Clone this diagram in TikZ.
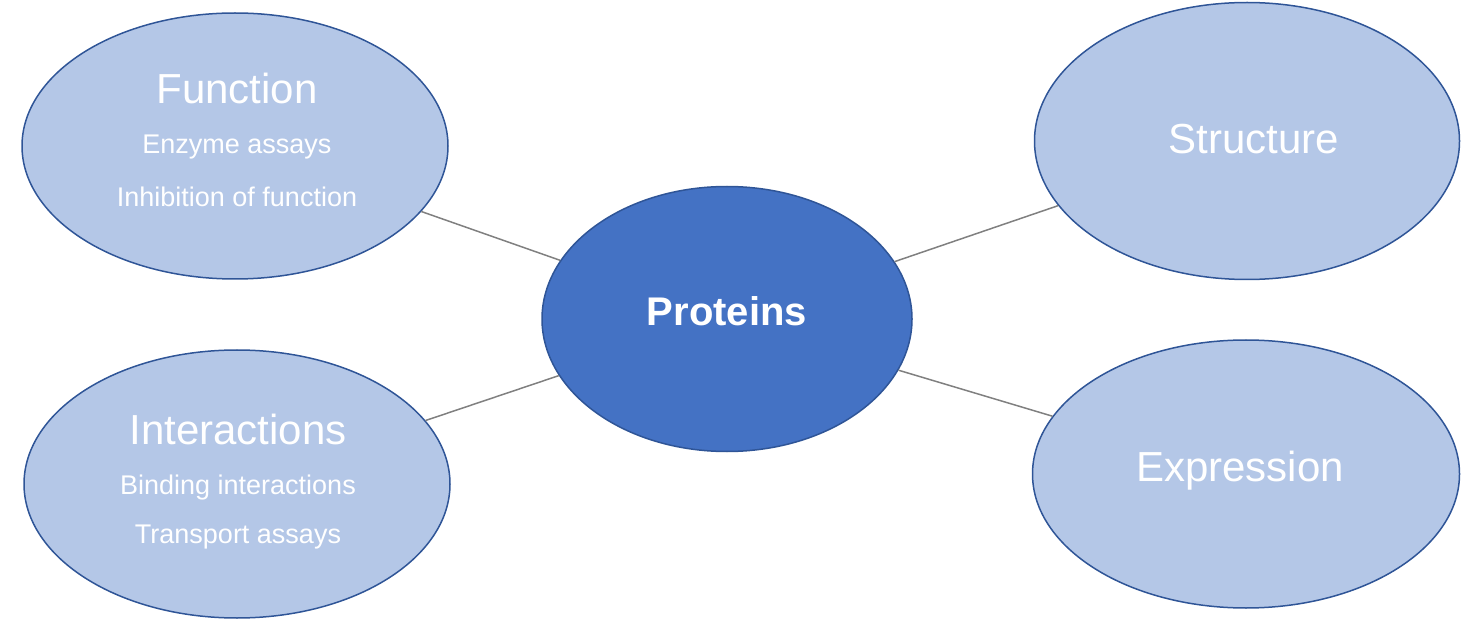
\documentclass[tikz,border=0pt]{standalone}
\usepackage{fontspec}
\setmainfont{Liberation Sans}
\usetikzlibrary{shapes.geometric}
\definecolor{lightb}{HTML}{B4C7E7}
\definecolor{darkb}{HTML}{4472C4}
\definecolor{edgeb}{HTML}{2F5597}
\tikzset{
  oval/.style={ellipse, draw=edgeb, line width=1.5pt, fill=lightb, inner sep=0pt},
  ttl/.style={text=white, font=\fontsize{42}{48}\selectfont},
  sub/.style={text=white, font=\fontsize{27}{32}\selectfont},
  link/.style={draw=gray, line width=1.5pt}
}
\begin{document}
\begin{tikzpicture}[x=1pt,y=-1pt]
\useasboundingbox (0,0) rectangle (1473,628);
\node[oval, minimum width=426pt, minimum height=266pt] (f) at (235,146) {};
\node[oval, minimum width=426pt, minimum height=268pt] (i) at (237,484) {};
\node[oval, minimum width=425pt, minimum height=277pt] (s) at (1247,141) {};
\node[oval, minimum width=427pt, minimum height=268pt] (e) at (1246,474) {};
\node[ellipse, draw=edgeb, line width=1.5pt, fill=darkb, minimum width=370pt, minimum height=265pt, inner sep=0pt] (p) at (727,319) {};
\draw[link] (f) -- (p);
\draw[link] (i) -- (p);
\draw[link] (s) -- (p);
\draw[link] (e) -- (p);
\node[ttl] (ft) at (237,88) {Function};
\node[sub] (f1) at (237,147) {Enzyme assays};
\node[sub] (f2) at (237,197) {Inhibition of function};
\node[ttl] (it) at (238,429) {Interactions};
\node[sub] (i1) at (238,488) {Binding interactions};
\node[sub] (i2) at (238,537) {Transport assays};
\node[ttl] (st) at (1254,139) {Structure};
\node[ttl] (et) at (1240,471) {Expression};
\node[text=white, font=\fontsize{40}{48}\selectfont\bfseries] (pt) at (727,311) {Proteins};
\end{tikzpicture}
\end{document}
